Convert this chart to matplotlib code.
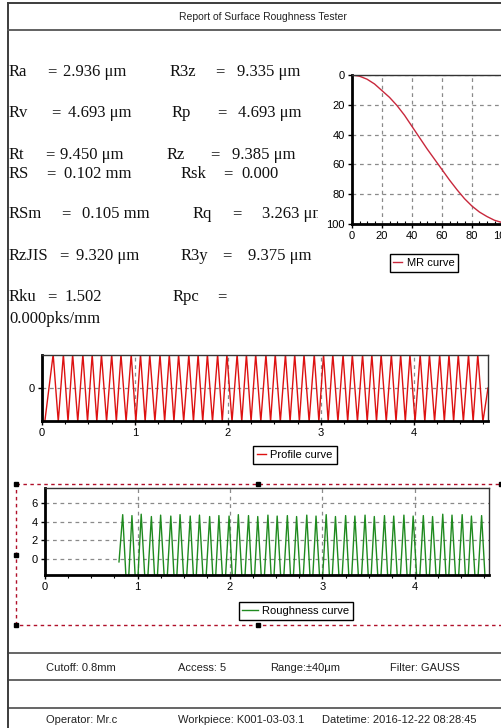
import matplotlib.pyplot as plt
from matplotlib.patches import Rectangle
from matplotlib.ticker import MultipleLocator

plt.rcParams['font.family'] = ['Liberation Sans', 'DejaVu Sans']

# ---- measured parameters ----
left_names = ['Ra', 'Rv', 'Rt', 'RS', 'RSm', 'RzJIS', 'Rku']
left_values = ['2.936 μm', '4.693 μm', '9.450 μm', '0.102 mm', '0.105 mm', '9.320 μm', '1.502']
right_names = ['R3z', 'Rp', 'Rz', 'Rsk', 'Rq', 'R3y', 'Rpc']
right_values = ['9.335 μm', '4.693 μm', '9.385 μm', '0.000', '3.263 μm', '9.375 μm', '']
rpc_value = '0.000pks/mm'

# ---- MR (material ratio) curve ----
mr_x = [0, 5, 10, 15, 20, 25, 30, 35, 40, 45, 50, 55, 60, 65, 70, 75, 80, 85, 90, 95, 100]
mr_y = [0, 0.8, 2.8, 6, 10.5, 15, 20.5, 27, 34.5, 42, 49.5, 56.5, 63.5, 70.5, 77, 83, 88, 92, 95, 97.5, 99]

# ---- profile curve (peaks / valleys) ----
profile_peak_x = [0.12, 0.23, 0.33, 0.44, 0.54, 0.64, 0.75, 0.85, 0.96, 1.06,
                  1.16, 1.27, 1.37, 1.47, 1.58, 1.68, 1.78, 1.89, 1.99, 2.10,
                  2.20, 2.30, 2.41, 2.51, 2.62, 2.72, 2.82, 2.93, 3.03, 3.13,
                  3.24, 3.34, 3.45, 3.55, 3.65, 3.76, 3.86, 3.96, 4.07, 4.17,
                  4.28, 4.38, 4.48, 4.59, 4.69]
profile_valley_x = [0.03, 0.175, 0.28, 0.385, 0.49, 0.59, 0.695, 0.80, 0.905, 1.01,
                    1.11, 1.215, 1.32, 1.42, 1.525, 1.63, 1.73, 1.835, 1.94, 2.045,
                    2.15, 2.25, 2.355, 2.46, 2.565, 2.67, 2.77, 2.875, 2.98, 3.08,
                    3.185, 3.29, 3.395, 3.50, 3.60, 3.705, 3.81, 3.91, 4.015, 4.12,
                    4.225, 4.33, 4.43, 4.535, 4.64, 4.745]
profile_rp = 4.693
profile_rv = -4.693
profile_start = (0.0, -4.693)
profile_end = (4.80, 0.0)

# ---- roughness curve ----
rough_peak_x = [0.84, 0.94, 1.04, 1.15, 1.25, 1.36, 1.46, 1.57, 1.67, 1.78,
                1.88, 1.99, 2.09, 2.20, 2.30, 2.41, 2.51, 2.62, 2.72, 2.83,
                2.93, 3.04, 3.14, 3.25, 3.35, 3.46, 3.56, 3.67, 3.77, 3.88,
                3.98, 4.09, 4.19, 4.30, 4.40, 4.51, 4.61, 4.72]
rough_peak_y = [4.75, 4.65, 4.80, 4.55, 4.70, 4.60, 4.75, 4.60, 4.70, 4.55,
                4.65, 4.60, 4.75, 4.65, 4.55, 4.70, 4.60, 4.65, 4.55, 4.70,
                4.60, 4.75, 4.55, 4.65, 4.60, 4.70, 4.55, 4.65, 4.60, 4.70,
                4.60, 4.65, 4.55, 4.80, 4.70, 4.75, 4.60, 4.65]
rough_valley_x = [0.89, 0.99, 1.095, 1.20, 1.305, 1.41, 1.515, 1.62, 1.725, 1.83,
                  1.935, 2.04, 2.145, 2.25, 2.355, 2.46, 2.565, 2.67, 2.775, 2.88,
                  2.985, 3.09, 3.195, 3.30, 3.405, 3.51, 3.615, 3.72, 3.825, 3.93,
                  4.035, 4.14, 4.245, 4.35, 4.455, 4.56, 4.665]
rough_valley = -4.69
rough_start = (0.80, -0.3)
rough_end = (4.77, -4.2)

settings_labels = ['Cutoff: 0.8mm', 'Access: 5', 'Range:±40μm', 'Filter: GAUSS']
info_labels = ['Operator: Mr.c', 'Workpiece: K001-03-03.1', 'Datetime: 2016-12-22 08:28:45']

# build polylines
prof_x, prof_y = [profile_start[0]], [profile_start[1]]
for i, px in enumerate(profile_peak_x):
    prof_x += [profile_valley_x[i], px]
    prof_y += [profile_rv, profile_rp]
prof_x += [profile_valley_x[-1], profile_end[0]]
prof_y += [profile_rv, profile_end[1]]

rough_x, rough_y = [rough_start[0]], [rough_start[1]]
for i, px in enumerate(rough_peak_x):
    rough_x.append(px)
    rough_y.append(rough_peak_y[i])
    if i < len(rough_valley_x):
        rough_x.append(rough_valley_x[i])
        rough_y.append(rough_valley)
rough_x.append(rough_end[0])
rough_y.append(rough_end[1])

W, H = 502, 728
fig = plt.figure(figsize=(W / 100, H / 100), dpi=100)


def box(x0, y0, x1, y1):
    return [x0 / W, 1 - y1 / H, (x1 - x0) / W, (y1 - y0) / H]


# background sheet in pixel coordinates
bg = fig.add_axes([0, 0, 1, 1])
bg.set_xlim(0, W)
bg.set_ylim(H, 0)
bg.axis('off')

frame_c = '#3c3c3c'
bg.plot([8, 8], [3, H], color=frame_c, lw=1.4)
bg.plot([8, W], [3, 3], color=frame_c, lw=1.4)
bg.plot([8, W], [30, 30], color='#555555', lw=1.3)
for yy in [653, 680, 708]:
    bg.plot([8, W], [yy, yy], color=frame_c, lw=1.1)

bg.text(263, 17, 'Report of Surface Roughness Tester', ha='center', va='center',
        fontsize=7.5, color='#222222')

# parameter block
row_y = [72, 113, 155, 174, 214, 256, 297]
left_eq = [47, 51, 45, 46, 61, 59, 47]
left_val = [63, 68, 60, 64, 82, 76, 64]
right_x = [170, 172, 167, 181, 193, 181, 173]
right_eq = [215, 217, 210, 223, 232, 222, 217]
right_val = [237, 238, 232, 241, 262, 248, 0]
serif = dict(family='Liberation Serif', fontsize=12, va='center', color='#111111')
for i in range(len(left_names)):
    y = row_y[i]
    bg.text(9, y, left_names[i], **serif)
    bg.text(left_eq[i], y, '=', **serif)
    bg.text(left_val[i], y, left_values[i], **serif)
    bg.text(right_x[i], y, right_names[i], **serif)
    bg.text(right_eq[i], y, '=', **serif)
    if right_values[i]:
        bg.text(right_val[i], y, right_values[i], **serif)
bg.text(9, 319, rpc_value, **serif)
bg.add_patch(Rectangle((318, 58), W - 318, 225, color='white', zorder=5))

# selection rectangle around roughness chart
sel_c = '#b0102a'
bg.add_patch(Rectangle((16, 484), W - 16 + 1, 141, fill=False, ec=sel_c,
                       lw=1.0, ls=(0, (2.5, 2.5)), zorder=4))
bg.plot([16, 258, 16, 16, 258, 501], [484, 484, 555, 625, 625, 484], 's',
        ms=3, color='black', zorder=6)

# footer
for x, s in zip([46, 178, 270, 390], settings_labels):
    bg.text(x, 668, s, fontsize=8, va='center', color='#222222')
for x, s in zip([46, 178, 322], info_labels):
    bg.text(x, 720, s, fontsize=8, va='center', color='#222222')


def style_axes(ax):
    for side in ['left', 'bottom']:
        ax.spines[side].set_linewidth(2)
        ax.spines[side].set_color('black')
    for side in ['top', 'right']:
        ax.spines[side].set_linewidth(1)
        ax.spines[side].set_color('#333333')
    ax.grid(True, ls=(0, (3, 3)), color='#8a8a8a', lw=0.9)
    ax.set_axisbelow(True)
    ax.tick_params(which='major', labelsize=8, length=3, pad=2, width=1)
    ax.tick_params(which='minor', length=2, width=0.8)


def add_legend(ax, cx, cy, hl=0.8):
    leg = ax.legend(loc='center', bbox_to_anchor=(cx / W, 1 - cy / H),
                    bbox_transform=fig.transFigure, fontsize=8, fancybox=False,
                    edgecolor='black', framealpha=1, handlelength=hl,
                    handletextpad=0.4, borderpad=0.35, borderaxespad=0)
    leg.get_frame().set_linewidth(1)


# MR curve
mr = fig.add_axes(box(352, 75, 502, 224))
mr.set_zorder(3)
mr.plot(mr_x, mr_y, color='#c8283c', lw=1, label='MR curve')
mr.set_xlim(0, 100)
mr.set_ylim(100, 0)
mr.set_xticks([0, 20, 40, 60, 80, 100])
mr.set_yticks([0, 20, 40, 60, 80, 100])
mr.xaxis.set_minor_locator(MultipleLocator(5))
style_axes(mr)
mr.tick_params(axis='x', which='minor', direction='in')
add_legend(mr, 424, 263)

# profile curve
pr = fig.add_axes(box(42, 355, 488, 421))
pr.plot(prof_x, prof_y, color='#dd1111', lw=1, label='Profile curve')
pr.set_xlim(0, 4.8)
pr.set_ylim(-4.6, 4.6)
pr.set_xticks([0, 1, 2, 3, 4])
pr.set_yticks([0])
pr.xaxis.set_minor_locator(MultipleLocator(0.25))
style_axes(pr)
add_legend(pr, 295, 455)

# roughness curve
ro = fig.add_axes(box(45, 488, 489, 575))
ro.plot(rough_x, rough_y, color='#1f8a1f', lw=1, label='Roughness curve')
ro.set_xlim(0, 4.8)
ro.set_ylim(-1.7, 7.6)
ro.set_xticks([0, 1, 2, 3, 4])
ro.set_yticks([0, 2, 4, 6])
ro.xaxis.set_minor_locator(MultipleLocator(0.25))
style_axes(ro)
add_legend(ro, 296, 611, hl=1.4)

fig.savefig('out.png', dpi=100)
